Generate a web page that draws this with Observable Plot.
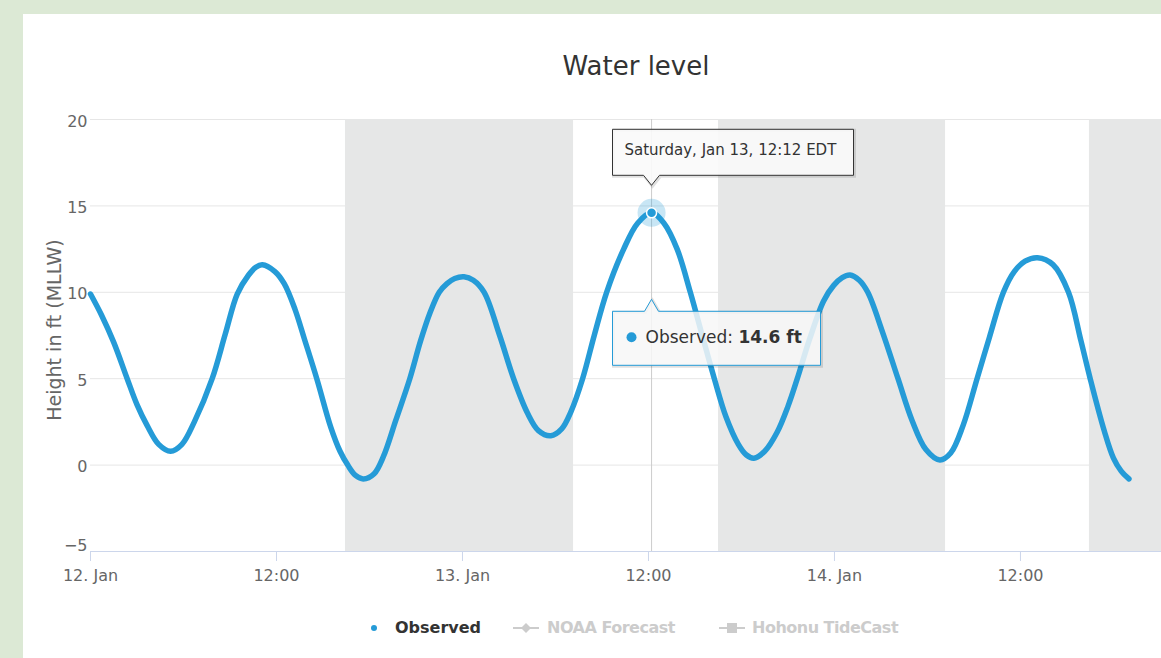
<!DOCTYPE html>
<html>
<head>
<meta charset="utf-8">
<script src="https://cdn.jsdelivr.net/npm/d3@7"></script>
<script src="https://cdn.jsdelivr.net/npm/@observablehq/plot@0.6"></script>
<style>
  html, body { margin: 0; padding: 0; width: 1161px; height: 658px; overflow: hidden; background: #dce9d5; font-family: "DejaVu Sans", sans-serif; }
  #panel { position: absolute; left: 23px; top: 14px; width: 1138px; height: 644px; background: #ffffff; overflow: hidden; }
  #title { position: absolute; left: 313px; width: 600px; top: 37px; text-align: center; font-size: 26px; line-height: 30px; color: #333333; }
  #chart { position: absolute; left: 0; top: 86px; }
  .leg { position: absolute; font-size: 16px; line-height: 20px; white-space: nowrap; font-weight: bold; }
</style>
</head>
<body>
<div id="panel">
  <div id="title">Water level</div>
  <div id="chart"></div>
  <div class="leg" style="left:345px;top:604px;"><svg width="10" height="20" style="vertical-align:top"><circle cx="6" cy="10" r="3" fill="#259bd7"/></svg></div>
  <div class="leg" style="left:372px;top:604px;color:#333;">Observed</div>
  <div class="leg" style="left:488px;top:604px;"><svg width="30" height="20" style="vertical-align:top"><line x1="2" y1="10" x2="28" y2="10" stroke="#cccccc" stroke-width="2"/><path d="M15,5 L20,10 L15,15 L10,10Z" fill="#cccccc"/></svg></div>
  <div class="leg" style="left:524px;top:604px;color:#cccccc;letter-spacing:-0.5px;">NOAA Forecast</div>
  <div class="leg" style="left:694px;top:604px;"><svg width="30" height="20" style="vertical-align:top"><line x1="2" y1="10" x2="28" y2="10" stroke="#cccccc" stroke-width="2"/><rect x="10" y="5" width="10" height="10" fill="#cccccc"/></svg></div>
  <div class="leg" style="left:729px;top:604px;color:#cccccc;letter-spacing:-0.5px;">Hohonu TideCast</div>
</div>
<script>
// ---- data (observed water level, ft MLLW) ----
const obsTimes = [
  "2018-01-12T00:00","2018-01-12T00:42","2018-01-12T01:30","2018-01-12T02:22","2018-01-12T03:00","2018-01-12T03:39",
  "2018-01-12T04:24","2018-01-12T05:10","2018-01-12T05:54","2018-01-12T06:42","2018-01-12T07:51","2018-01-12T08:42",
  "2018-01-12T09:28","2018-01-12T10:12","2018-01-12T10:40","2018-01-12T11:05","2018-01-12T11:54","2018-01-12T12:30",
  "2018-01-12T13:12","2018-01-12T13:48","2018-01-12T14:36","2018-01-12T15:30","2018-01-12T16:06","2018-01-12T16:36",
  "2018-01-12T17:06","2018-01-12T17:36",
  "2018-01-12T18:18","2018-01-12T18:54","2018-01-12T19:42","2018-01-12T20:36","2018-01-12T21:18","2018-01-12T21:54",
  "2018-01-12T22:30","2018-01-12T23:00","2018-01-12T23:30",
  "2018-01-13T00:06","2018-01-13T00:42","2018-01-13T01:24","2018-01-13T02:24","2018-01-13T03:18","2018-01-13T04:12",
  "2018-01-13T04:54","2018-01-13T05:42","2018-01-13T06:24","2018-01-13T07:00","2018-01-13T07:45","2018-01-13T08:30",
  "2018-01-13T09:18","2018-01-13T10:24","2018-01-13T11:18","2018-01-13T12:12","2018-01-13T13:00","2018-01-13T13:51",
  "2018-01-13T14:42","2018-01-13T15:30","2018-01-13T16:15","2018-01-13T17:00","2018-01-13T17:48","2018-01-13T18:18",
  "2018-01-13T18:48","2018-01-13T19:30","2018-01-13T20:18","2018-01-13T21:00","2018-01-13T21:36","2018-01-13T22:24",
  "2018-01-13T23:18","2018-01-13T23:57",
  "2018-01-14T00:30","2018-01-14T01:00","2018-01-14T01:36","2018-01-14T02:09","2018-01-14T03:06","2018-01-14T04:06",
  "2018-01-14T05:00","2018-01-14T05:54","2018-01-14T06:48","2018-01-14T07:30","2018-01-14T08:18","2018-01-14T09:12",
  "2018-01-14T10:00","2018-01-14T10:54","2018-01-14T11:36","2018-01-14T12:18","2018-01-14T13:06","2018-01-14T14:06",
  "2018-01-14T15:06","2018-01-14T15:54","2018-01-14T16:30","2018-01-14T17:24","2018-01-14T18:00","2018-01-14T18:30",
  "2018-01-14T19:00"
];
const obsLevels = [
  9.9, 8.7, 7.1, 5.0, 3.5, 2.3,
  1.2, 0.8, 1.2, 2.5, 5.0, 7.6,
  9.9, 11.0, 11.45, 11.6, 11.2, 10.5,
  9.0, 7.3, 5.0, 2.2, 0.8, 0.0,
  -0.6, -0.8,
  -0.5, 0.5, 2.6, 5.0, 7.2, 8.8,
  10.0, 10.5, 10.8,
  10.9, 10.7, 10.0, 7.5, 5.0, 3.0,
  2.0, 1.7, 2.1, 3.1, 5.0, 7.5,
  10.0, 12.5, 14.0, 14.6, 14.0, 12.5,
  10.0, 7.4, 5.0, 2.8, 1.2, 0.6,
  0.4, 0.8, 1.9, 3.4, 5.0, 7.3,
  9.5, 10.4,
  10.85, 11.0, 10.7, 10.0, 7.7, 5.0,
  2.6, 0.9, 0.3, 0.7, 2.3, 5.0,
  7.4, 10.0, 11.2, 11.8, 12.0, 11.6,
  10.0, 7.2, 5.0, 2.0, 0.4, -0.35,
  -0.8
];
const nightStart = ["2018-01-12T16:27", "2018-01-13T16:31", "2018-01-14T16:27"];
const nightEnd   = ["2018-01-13T07:10", "2018-01-14T07:10", "2018-01-14T21:10"];
const xTicks = ["2018-01-12T00:00","2018-01-12T12:00","2018-01-13T00:00","2018-01-13T12:00","2018-01-14T00:00","2018-01-14T12:00"];
const yTicks = [0, 5, 10, 15, 20];
const xDomain = ["2018-01-12T00:00", "2018-01-14T21:06"];
const yDomain = [-5, 20];
const peakTime = "2018-01-13T12:12";
const peakLevel = 14.6;
const tipDate = "Saturday, Jan 13, 12:12 EDT";
const seriesName = "Observed";
const yTitle = "Height in ft (MLLW)";

// ---- build ----
const parse = d3.utcParse("%Y-%m-%dT%H:%M");
const data = obsTimes.map((t, i) => ({time: parse(t), level: obsLevels[i]}));
const bands = nightStart.map((s, i) => ({start: parse(s), end: parse(nightEnd[i])}));
const peak = [{time: parse(peakTime), level: peakLevel}];
const blue = "#259bd7";
const fmt = d => (d.getUTCHours() === 0 ? d3.utcFormat("%-d. %b")(d) : d3.utcFormat("%H:%M")(d));

const plot = Plot.plot({
  width: 1138,
  height: 500,
  marginLeft: 67,
  marginRight: 0,
  marginTop: 19,
  marginBottom: 49,
  style: {fontFamily: "DejaVu Sans, sans-serif", fontSize: "16px", background: "transparent", overflow: "visible"},
  x: {type: "utc", domain: xDomain.map(parse)},
  y: {domain: yDomain},
  marks: [
    Plot.gridY(yTicks, {stroke: "#e6e6e6", strokeOpacity: 1}),
    Plot.rect(bands, {x1: "start", x2: "end", fill: "#e6e7e7"}),
    Plot.ruleX(peak, {x: "time", stroke: "#cccccc", strokeWidth: 1}),
    Plot.ruleY([yDomain[0]], {stroke: "#ccd6eb", strokeWidth: 1}),
    Plot.axisY(yTicks, {tickSize: 0, tickPadding: 3, fill: "#666666", fontSize: 16, dy: 2, label: null}),
    Plot.axisY([yDomain[0]], {tickSize: 0, tickPadding: 3, fill: "#666666", fontSize: 16, dy: -6, label: null}),
    Plot.axisX(xTicks.map(parse), {tickSize: 10, tickPadding: 8, stroke: "#ccd6eb", fill: "#666666", fontSize: 16, tickFormat: fmt, label: null}),
    Plot.line(data, {x: "time", y: "level", stroke: blue, strokeWidth: 5.5, curve: "catmull-rom", strokeLinecap: "round"}),
    Plot.dot(peak, {x: "time", y: "level", r: 14, fill: blue, fillOpacity: 0.25}),
    Plot.dot(peak, {x: "time", y: "level", r: 5, fill: blue, stroke: "#ffffff", strokeWidth: 1.5})
  ]
});
document.getElementById("chart").appendChild(plot);

// ---- annotations (y axis title, tooltips) using the plot's scales ----
const svg = d3.select(plot);
const xs = plot.scale("x"), ys = plot.scale("y");
const px = Math.round(xs.apply(parse(peakTime))) + 0.5;
const py = ys.apply(peakLevel);
const yMid = (ys.apply(yDomain[0]) + ys.apply(yDomain[1])) / 2;

svg.append("text")
  .attr("transform", `translate(38,${yMid - 5}) rotate(-90)`)
  .attr("text-anchor", "middle")
  .attr("fill", "#666666")
  .attr("font-size", 19)
  .text(yTitle);

// top tooltip (date)
{
  const l = px - 39, r = px + 202, t = py - 83, b = py - 37, tip = py - 27;
  const path = `M${l},${t}H${r}V${b}H${px + 8}L${px},${tip}L${px - 8},${b}H${l}Z`;
  svg.append("path").attr("d", path).attr("transform", "translate(1,1)").attr("fill", "none").attr("stroke", "#000").attr("stroke-opacity", 0.12).attr("stroke-width", 3);
  svg.append("path").attr("d", path).attr("fill", "#f9f9f9").attr("fill-opacity", 0.9).attr("stroke", "#333333").attr("stroke-width", 1);
  svg.append("text").attr("x", l + 12).attr("y", t + 20).attr("dy", "0.35em").attr("text-anchor", "start").attr("font-size", 15).attr("fill", "#333333").text(tipDate);
}
// lower tooltip (value)
{
  const l = px - 39, r = px + 169, t = py + 99, b = py + 153, tip = py + 87;
  const path = `M${l},${t}H${px - 7}L${px},${tip}L${px + 7},${t}H${r}V${b}H${l}Z`;
  svg.append("path").attr("d", path).attr("transform", "translate(1,1)").attr("fill", "none").attr("stroke", "#000").attr("stroke-opacity", 0.12).attr("stroke-width", 3);
  svg.append("path").attr("d", path).attr("fill", "#f7f7f7").attr("fill-opacity", 0.85).attr("stroke", blue).attr("stroke-width", 1);
  svg.append("circle").attr("cx", px - 20).attr("cy", py + 125).attr("r", 5).attr("fill", blue);
  const tx = svg.append("text").attr("x", px - 6).attr("y", py + 125).attr("dy", "0.35em").attr("text-anchor", "start").attr("font-size", 17).attr("fill", "#333333");
  tx.append("tspan").text(seriesName + ": ");
  tx.append("tspan").attr("font-weight", "bold").text(peakLevel.toFixed(1) + " ft");
}
</script>
</body>
</html>
